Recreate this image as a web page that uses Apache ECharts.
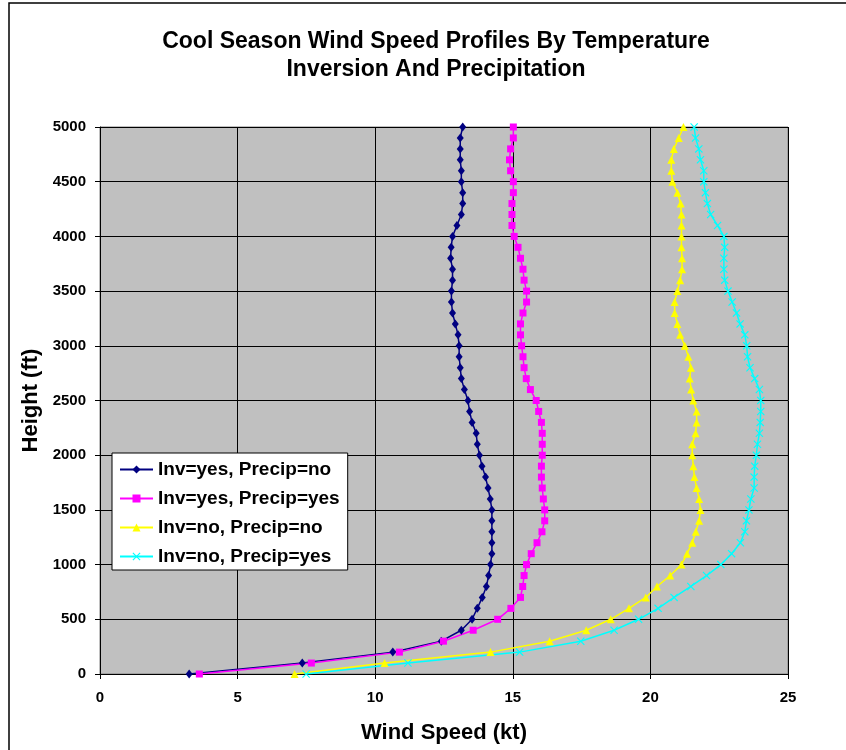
<!DOCTYPE html>
<html>
<head>
<meta charset="utf-8">
<script src="https://cdn.jsdelivr.net/npm/echarts@6/dist/echarts.min.js"></script>
<style>
  html, body { margin: 0; padding: 0; background: #fff; }
  #chart { width: 846px; height: 750px; }
</style>
</head>
<body>
<div id="chart"></div>
<script>
// heights (ft), one point every 100 ft
var heights = [];
for (var h = 0; h <= 5000; h += 100) heights.push(h);

// wind speed (kt) from 0 ft up to 5000 ft
var invYesPrecipNo = [3.24, 7.35, 10.64, 12.40, 13.13, 13.52, 13.71, 13.89, 14.04, 14.12,
  14.19, 14.24, 14.24, 14.24, 14.24, 14.24, 14.18, 14.10, 14.01, 13.88,
  13.79, 13.71, 13.67, 13.52, 13.43, 13.37, 13.24, 13.13, 13.09, 13.05,
  13.05, 13.01, 12.91, 12.81, 12.77, 12.77, 12.81, 12.81, 12.74, 12.76,
  12.81, 12.97, 13.13, 13.18, 13.18, 13.13, 13.13, 13.09, 13.09, 13.09, 13.18];
var invYesPrecipYes = [3.61, 7.68, 10.88, 12.48, 13.56, 14.45, 14.93, 15.28, 15.36, 15.41,
  15.50, 15.67, 15.88, 16.06, 16.16, 16.16, 16.11, 16.07, 16.04, 16.04,
  16.07, 16.07, 16.07, 16.04, 15.94, 15.85, 15.64, 15.49, 15.41, 15.37,
  15.32, 15.28, 15.28, 15.37, 15.50, 15.50, 15.41, 15.37, 15.28, 15.19,
  15.05, 14.97, 14.97, 14.97, 15.02, 15.02, 14.92, 14.88, 14.92, 15.02, 15.02];
var invNoPrecipNo = [7.07, 10.34, 14.19, 16.34, 17.67, 18.56, 19.22, 19.83, 20.24, 20.72,
  21.13, 21.33, 21.52, 21.65, 21.77, 21.82, 21.77, 21.68, 21.60, 21.56,
  21.52, 21.52, 21.64, 21.68, 21.68, 21.56, 21.48, 21.43, 21.47, 21.38,
  21.25, 21.08, 20.98, 20.88, 20.88, 20.98, 21.08, 21.15, 21.15, 21.13,
  21.13, 21.13, 21.13, 21.10, 20.98, 20.80, 20.76, 20.76, 20.85, 21.03, 21.20];
var invNoPrecipYes = [7.49, 11.19, 15.25, 17.47, 18.68, 19.57, 20.28, 20.86, 21.47, 22.04,
  22.56, 22.95, 23.27, 23.43, 23.49, 23.58, 23.65, 23.77, 23.77, 23.79,
  23.85, 23.89, 23.96, 23.99, 24.01, 24.01, 23.96, 23.79, 23.62, 23.53,
  23.50, 23.43, 23.26, 23.13, 22.97, 22.82, 22.70, 22.67, 22.67, 22.70,
  22.67, 22.44, 22.19, 22.07, 22.00, 21.94, 21.94, 21.82, 21.76, 21.64, 21.59];

var seriesNames = ['Inv=yes, Precip=no', 'Inv=yes, Precip=yes', 'Inv=no, Precip=no', 'Inv=no, Precip=yes'];

function pairs(speeds) {
  return speeds.map(function (v, i) { return [v, heights[i]]; });
}

var font = '"Liberation Sans", Arial, sans-serif';
var crossPath = 'path://M0,1L1,0L5,4L9,0L10,1L6,5L10,9L9,10L5,6L1,10L0,9L4,5Z';

var chart = echarts.init(document.getElementById('chart'));

var option = {
  backgroundColor: '#fff',
  animation: false,
  textStyle: { fontFamily: font },
  title: {
    text: 'Cool Season Wind Speed Profiles By Temperature\nInversion And Precipitation',
    left: 431,
    top: 23,
    textAlign: 'center',
    textStyle: { fontSize: 23, fontWeight: 'bold', color: '#000', lineHeight: 28, fontFamily: font }
  },
  grid: { left: 100, right: 58, top: 127, bottom: 76, containLabel: false,
    show: true, backgroundColor: '#c0c0c0', borderColor: '#808080', borderWidth: 1 },
  legend: {
    orient: 'vertical',
    left: 112,
    top: 453,
    padding: [7, 8, 4, 7],
    itemGap: 10,
    itemWidth: 33,
    itemHeight: 10,
    backgroundColor: '#fff',
    borderColor: '#000',
    borderWidth: 1,
    borderRadius: 0,
    textStyle: { fontSize: 19, fontWeight: 'bold', color: '#000', fontFamily: font, lineHeight: 19 },
    data: seriesNames
  },
  xAxis: {
    type: 'value',
    min: 0, max: 25, interval: 5,
    name: 'Wind Speed (kt)',
    nameLocation: 'middle',
    nameGap: 48,
    nameTextStyle: { fontSize: 22, fontWeight: 'bold', color: '#000', fontFamily: font },
    axisLine: { show: true, onZero: false, lineStyle: { color: '#000', width: 1 } },
    axisTick: { show: true, length: 5, lineStyle: { color: '#000' } },
    axisLabel: { margin: 16, fontSize: 15, fontWeight: 'bold', color: '#000', fontFamily: font },
    splitLine: { show: true, lineStyle: { color: '#000', width: 1 } }
  },
  yAxis: {
    type: 'value',
    min: 0, max: 5000, interval: 500,
    name: 'Height (ft)',
    nameLocation: 'middle',
    nameGap: 53,
    nameTextStyle: { fontSize: 22, fontWeight: 'bold', color: '#000', fontFamily: font },
    axisLine: { show: true, onZero: false, lineStyle: { color: '#000', width: 1 } },
    axisTick: { show: true, length: 5, lineStyle: { color: '#000' } },
    axisLabel: { margin: 14, fontSize: 15, fontWeight: 'bold', color: '#000', fontFamily: font,
      formatter: function (v) { return String(v); } },
    splitLine: { show: true, lineStyle: { color: '#000', width: 1 } }
  },
  graphic: [{
    type: 'rect',
    shape: { x: 9, y: 3, width: 900, height: 800 },
    style: { fill: 'none', stroke: '#000', lineWidth: 1.5 },
    silent: true
  }],
  series: [
    {
      name: seriesNames[0], type: 'line', data: pairs(invYesPrecipNo),
      symbol: 'diamond', symbolSize: [7, 9],
      lineStyle: { color: '#000080', width: 1.5 },
      itemStyle: { color: '#000080' }
    },
    {
      name: seriesNames[1], type: 'line', data: pairs(invYesPrecipYes),
      symbol: 'rect', symbolSize: 7,
      lineStyle: { color: '#ff00ff', width: 1.5 },
      itemStyle: { color: '#ff00ff' }
    },
    {
      name: seriesNames[2], type: 'line', data: pairs(invNoPrecipNo),
      symbol: 'triangle', symbolSize: 8,
      lineStyle: { color: '#ffff00', width: 1.5 },
      itemStyle: { color: '#ffff00' }
    },
    {
      name: seriesNames[3], type: 'line', data: pairs(invNoPrecipYes),
      symbol: crossPath, symbolSize: 8,
      lineStyle: { color: '#00ffff', width: 1.5 },
      itemStyle: { color: '#00ffff' }
    }
  ]
};

chart.setOption(option);
</script>
</body>
</html>
